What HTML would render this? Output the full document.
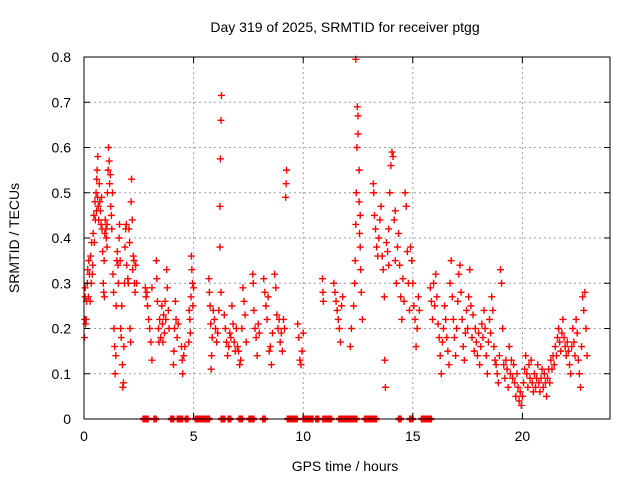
<!DOCTYPE html>
<html><head><meta charset="utf-8"><style>
body{margin:0;background:#fff}
svg{display:block;font-family:"Liberation Sans",sans-serif}
</style></head><body>
<svg id="chart" width="640" height="480">
<rect width="640" height="480" fill="#fff"/>
<text x="345" y="32" font-size="14" text-anchor="middle" fill="#000">Day 319 of 2025, SRMTID for receiver ptgg</text>
<text x="345" y="471" font-size="14" text-anchor="middle" fill="#000">GPS time / hours</text>
<text x="19" y="238" font-size="14" text-anchor="middle" fill="#000" transform="rotate(-90 19 238)">SRMTID / TECUs</text>
<g id="grid"></g>
<g id="marks"></g>
<rect x="84" y="57" width="526" height="362" fill="none" stroke="#000" stroke-width="1"/>
<g id="axes"></g>
</svg>
<script>
const xTicks=[0,5,10,15,20];
const yTicks=[0,0.1,0.2,0.3,0.4,0.5,0.6,0.7,0.8];
const yTickLabels=["0","0.1","0.2","0.3","0.4","0.5","0.6","0.7","0.8"];
const points=[
[0.02,0.18],[0.03,0.22],[0.05,0.27],[0.05,0.29],[0.08,0.21],[0.1,0.22],[0.12,0.26],[0.15,0.3],[0.17,0.33],[0.2,0.27],[0.22,0.35],[0.25,0.32],[0.28,0.26],[0.3,0.36],[0.33,0.3],[0.35,0.39],[0.38,0.32],[0.4,0.34],
[0.42,0.41],[0.45,0.45],[0.47,0.39],[0.5,0.48],[0.52,0.44],[0.55,0.5],[0.57,0.46],[0.58,0.53],[0.6,0.55],[0.62,0.49],[0.63,0.58],[0.65,0.47],[0.67,0.44],[0.7,0.52],[0.72,0.48],[0.75,0.46],[0.78,0.43],[0.8,0.49],[0.82,0.42],[0.85,0.37],
[0.88,0.3],[0.9,0.28],[0.92,0.35],[0.95,0.41],[0.97,0.44],[1.0,0.42],[1.02,0.4],[1.05,0.43],[1.07,0.5],[1.1,0.55],[1.12,0.6],[1.15,0.57],[1.17,0.52],[1.2,0.54],[1.22,0.47],[1.25,0.45],[1.27,0.42],[1.3,0.5],[0.93,0.27],[1.05,0.38],
[1.32,0.32],[1.35,0.28],[1.37,0.2],[1.4,0.16],[1.42,0.1],[1.45,0.14],[1.47,0.25],[1.5,0.35],[1.52,0.37],[1.55,0.34],[1.57,0.3],[1.6,0.4],
[1.62,0.43],[1.65,0.35],[1.67,0.2],[1.7,0.18],[1.72,0.25],[1.75,0.12],[1.77,0.07],[1.8,0.08],[1.82,0.16],[1.85,0.3],[1.87,0.38],[1.9,0.42],
[1.93,0.43],[1.95,0.34],[2.0,0.31],[2.02,0.3],[2.05,0.42],[2.08,0.39],[2.1,0.2],[2.13,0.17],[2.15,0.48],[2.17,0.53],[2.2,0.44],[2.22,0.33],[2.25,0.36],[2.28,0.35],[2.3,0.3],[2.33,0.28],[2.36,0.34],[2.4,0.3],
[2.8,0.29],[2.83,0.27],[2.87,0.28],[2.9,0.25],[2.95,0.22],[3.0,0.2],[3.05,0.17],[3.1,0.13],[3.1,0.29],
[3.3,0.35],[3.32,0.31],[3.35,0.26],[3.4,0.2],[3.42,0.17],[3.45,0.22],[3.5,0.18],[3.55,0.25],[3.58,0.21],[3.6,0.17],[3.63,0.23],[3.67,0.19],[3.7,0.26],[3.73,0.22],[3.77,0.33],[3.8,0.29],[3.85,0.24],[3.88,0.2],
[4.08,0.12],[4.1,0.15],[4.13,0.2],[4.17,0.26],[4.2,0.22],[4.25,0.18],[4.3,0.21],[4.45,0.16],[4.48,0.13],[4.5,0.1],[4.55,0.14],[4.6,0.16],
[4.78,0.17],[4.8,0.24],[4.83,0.22],[4.85,0.19],[4.88,0.27],[4.9,0.36],[4.92,0.33],[4.95,0.3],[4.97,0.25],[5.0,0.29],
[5.7,0.31],[5.72,0.28],[5.75,0.25],[5.78,0.21],[5.8,0.11],[5.82,0.14],[5.85,0.18],[5.9,0.24],[5.95,0.22],[6.0,0.2],[6.05,0.17],[6.1,0.19],[6.15,0.24],[6.2,0.38],[6.2,0.47],[6.22,0.575],[6.25,0.66],[6.27,0.715],[6.25,0.28],
[6.4,0.23],[6.45,0.2],[6.5,0.17],[6.55,0.14],[6.6,0.16],[6.65,0.19],[6.7,0.18],[6.75,0.25],[6.8,0.21],[6.85,0.17],[6.9,0.15],[6.95,0.2],[7.0,0.16],
[7.05,0.15],[7.1,0.12],[7.15,0.13],[7.2,0.2],[7.25,0.29],[7.3,0.26],[7.35,0.23],[7.4,0.17],
[7.7,0.32],[7.72,0.3],[7.75,0.24],[7.8,0.2],[7.85,0.18],[7.9,0.14],[7.95,0.21],[8.0,0.19],
[8.2,0.31],[8.25,0.28],[8.3,0.25],[8.35,0.22],[8.4,0.27],[8.45,0.15],[8.5,0.16],[8.55,0.12],[8.6,0.19],
[8.7,0.32],[8.75,0.29],[8.8,0.23],[8.85,0.2],[8.9,0.22],[8.95,0.17],[9.0,0.19],[9.05,0.15],[9.1,0.22],[9.15,0.2],[9.2,0.49],[9.22,0.52],[9.24,0.55],
[9.75,0.21],[9.8,0.18],[9.85,0.13],[9.9,0.12],[9.95,0.15],[10.0,0.19],
[10.88,0.31],[10.9,0.28],[10.92,0.26],
[11.4,0.3],[11.45,0.28],[11.5,0.26],[11.55,0.24],[11.6,0.22],[11.65,0.2],[11.7,0.17],[11.75,0.25],[11.8,0.27],
[12.15,0.16],[12.2,0.2],[12.3,0.25],[12.35,0.3],[12.37,0.35],[12.4,0.43],[12.42,0.5],[12.45,0.6],[12.4,0.795],[12.47,0.69],[12.5,0.67],[12.5,0.63],[12.55,0.55],[12.57,0.41],[12.6,0.38],[12.62,0.33],[12.65,0.28],[12.7,0.22],[12.55,0.48],[12.6,0.45],
[13.2,0.52],[13.22,0.5],[13.25,0.45],[13.3,0.42],[13.35,0.38],[13.4,0.36],[13.45,0.4],[13.5,0.44],[13.55,0.47],[13.6,0.36],[13.65,0.33],[13.7,0.27],[13.72,0.13],[13.75,0.07],[13.8,0.39],[13.85,0.37],[13.9,0.42],[13.95,0.5],[14.0,0.56],[14.05,0.59],[14.1,0.58],[14.15,0.44],[14.2,0.35],[14.25,0.3],[14.3,0.38],[14.35,0.41],[14.4,0.34],[14.45,0.27],[14.5,0.22],[14.55,0.31],[14.6,0.26],[14.65,0.5],[14.7,0.47],[14.75,0.37],[14.8,0.3],[14.85,0.24],[13.9,0.34],[14.2,0.46],
[14.9,0.38],[14.95,0.35],[15.0,0.3],[15.05,0.25],[15.1,0.22],[15.15,0.16],[15.2,0.2],[15.25,0.27],[15.3,0.24],
[15.8,0.29],[15.85,0.26],[15.9,0.22],[15.95,0.3],[16.0,0.25],[16.05,0.32],[16.1,0.27],[16.15,0.21],[16.2,0.18],[16.25,0.14],[16.3,0.1],[16.35,0.17],[16.4,0.2],[16.45,0.25],[16.5,0.22],[16.55,0.18],[16.6,0.15],[16.65,0.12],
[16.7,0.3],[16.75,0.35],[16.8,0.27],[16.85,0.22],[16.9,0.18],[16.95,0.14],[17.0,0.2],[17.05,0.26],[17.1,0.32],[17.15,0.34],[17.2,0.28],[17.25,0.22],[17.3,0.16],[17.35,0.13],[17.4,0.19],[17.45,0.24],[17.5,0.2],[17.55,0.27],[17.6,0.33],[17.65,0.25],[17.7,0.18],[17.75,0.23],[17.8,0.15],[17.85,0.2],
[17.9,0.17],[17.95,0.14],[18.0,0.19],[18.05,0.12],[18.1,0.16],[18.15,0.21],[18.2,0.18],[18.25,0.24],[18.3,0.2],[18.35,0.14],[18.4,0.1],[18.45,0.17],[18.5,0.22],[18.55,0.19],[18.6,0.27],[18.65,0.24],[18.7,0.16],[18.75,0.13],
[18.8,0.12],[18.85,0.1],[18.9,0.08],[18.95,0.14],[19.0,0.33],[19.05,0.3],[19.1,0.2],[19.15,0.12],[19.2,0.09],[19.25,0.13],[19.3,0.11],[19.35,0.07],[19.4,0.16],[19.45,0.1],[19.5,0.13],[19.55,0.09],
[19.6,0.12],[19.65,0.08],[19.7,0.05],[19.75,0.1],[19.8,0.07],[19.85,0.04],[19.9,0.06],[19.95,0.03],[20.0,0.05],[20.05,0.08],[20.1,0.11],[20.15,0.14],[20.2,0.1],[20.25,0.07],[20.3,0.12],[20.35,0.09],[20.4,0.13],
[20.45,0.08],[20.5,0.06],[20.55,0.1],[20.6,0.07],[20.65,0.09],[20.7,0.12],[20.75,0.08],[20.8,0.06],[20.85,0.09],[20.9,0.11],[20.95,0.07],[21.0,0.1],[21.05,0.08],[21.1,0.05],[21.15,0.09],[21.2,0.11],[21.25,0.08],
[21.3,0.13],[21.35,0.11],[21.4,0.14],[21.45,0.12],[21.5,0.16],[21.55,0.14],[21.6,0.18],[21.65,0.2],[21.7,0.17],[21.75,0.15],[21.8,0.19],[21.85,0.22],[21.9,0.18],[21.95,0.16],[22.0,0.14],[22.05,0.17],[22.1,0.15],[22.15,0.12],
[22.2,0.1],[22.25,0.16],[22.3,0.2],[22.35,0.17],[22.4,0.14],[22.45,0.22],[22.5,0.19],[22.55,0.13],[22.6,0.1],[22.65,0.07],[22.7,0.16],[22.75,0.27],[22.8,0.24],[22.85,0.28],[22.9,0.2],[22.95,0.14]
];
const zeroTimes=[2.72,2.77,2.82,2.86,2.9,3.22,3.27,3.98,4.03,4.07,4.28,4.33,4.38,4.43,4.47,4.65,4.69,4.72,5.1,5.15,5.2,5.25,5.3,5.35,5.4,5.45,5.5,5.55,5.6,5.65,5.7,6.28,6.34,6.4,6.6,6.67,7.1,7.15,7.2,7.55,7.6,7.65,7.73,8.18,8.24,9.3,9.35,9.4,9.45,9.5,9.55,9.6,9.65,9.7,10.02,10.07,10.12,10.17,10.22,10.27,10.32,10.37,10.42,10.6,10.68,10.92,10.97,11.02,11.07,11.12,11.17,11.22,11.27,11.65,11.7,11.75,11.8,11.85,11.9,11.95,12.0,12.05,12.1,12.15,12.2,12.25,12.3,12.35,12.42,12.82,12.87,12.92,12.97,13.02,13.07,13.12,13.17,13.22,13.27,13.32,14.37,14.44,14.88,14.93,14.98,15.42,15.47,15.52,15.57,15.62,15.67,15.72,15.77,15.82];
const NS="http://www.w3.org/2000/svg";
function xs(t){return 84+t*21.92;}
function ys(v){return 419-v*452.5;}
const grid=document.getElementById('grid'),axes=document.getElementById('axes'),marks=document.getElementById('marks');
function mk(tag,at,parent){const e=document.createElementNS(NS,tag);for(const k in at)e.setAttribute(k,at[k]);parent.appendChild(e);return e;}
xTicks.forEach((t,i)=>{
  const X=xs(t);
  if(t>0){const g=mk('line',{x1:X,x2:X,y1:57,y2:419,stroke:'#a0a0a0','stroke-dasharray':'2,3'},grid);
  
  }
  const a=mk('line',{x1:X,x2:X,y1:419,y2:413,stroke:'#000'},axes);
  
  
  const b=mk('line',{x1:X,x2:X,y1:57,y2:63,stroke:'#000'},axes);
  
  
  const l=mk('text',{x:X,y:441,'font-size':14,'text-anchor':'middle'},axes);l.textContent=String(t);
  
  
});
yTicks.forEach((v,i)=>{
  const Y=ys(v);
  if(v>0&&v<0.8){const g=mk('line',{x1:84,x2:610,y1:Y,y2:Y,stroke:'#a0a0a0','stroke-dasharray':'2,3'},grid);
  
  }
  const a=mk('line',{x1:84,x2:90,y1:Y,y2:Y,stroke:'#000'},axes);
  
  
  const b=mk('line',{x1:604,x2:610,y1:Y,y2:Y,stroke:'#000'},axes);
  
  
  const l=mk('text',{x:71,y:Y+5,'font-size':14,'text-anchor':'end'},axes);l.textContent=yTickLabels[i];
  
  
});
let d='';
points.forEach(p=>{const X=xs(p[0]),Y=ys(p[1]);d+=`M${X-3.5},${Y}h7M${X},${Y-3.5}v7`;});
let dz='';
zeroTimes.forEach(t=>{const X=xs(t),Y=ys(0);dz+=`M${X-3.5},${Y}h7M${X},${Y-3.5}v7`;});
const pth=mk('path',{d:d,stroke:'#ff0000','stroke-width':1.4,fill:'none'},marks);


const pz=mk('path',{d:dz,stroke:'#ff0000','stroke-width':2.5,fill:'none'},marks);


</script>
</body></html>
